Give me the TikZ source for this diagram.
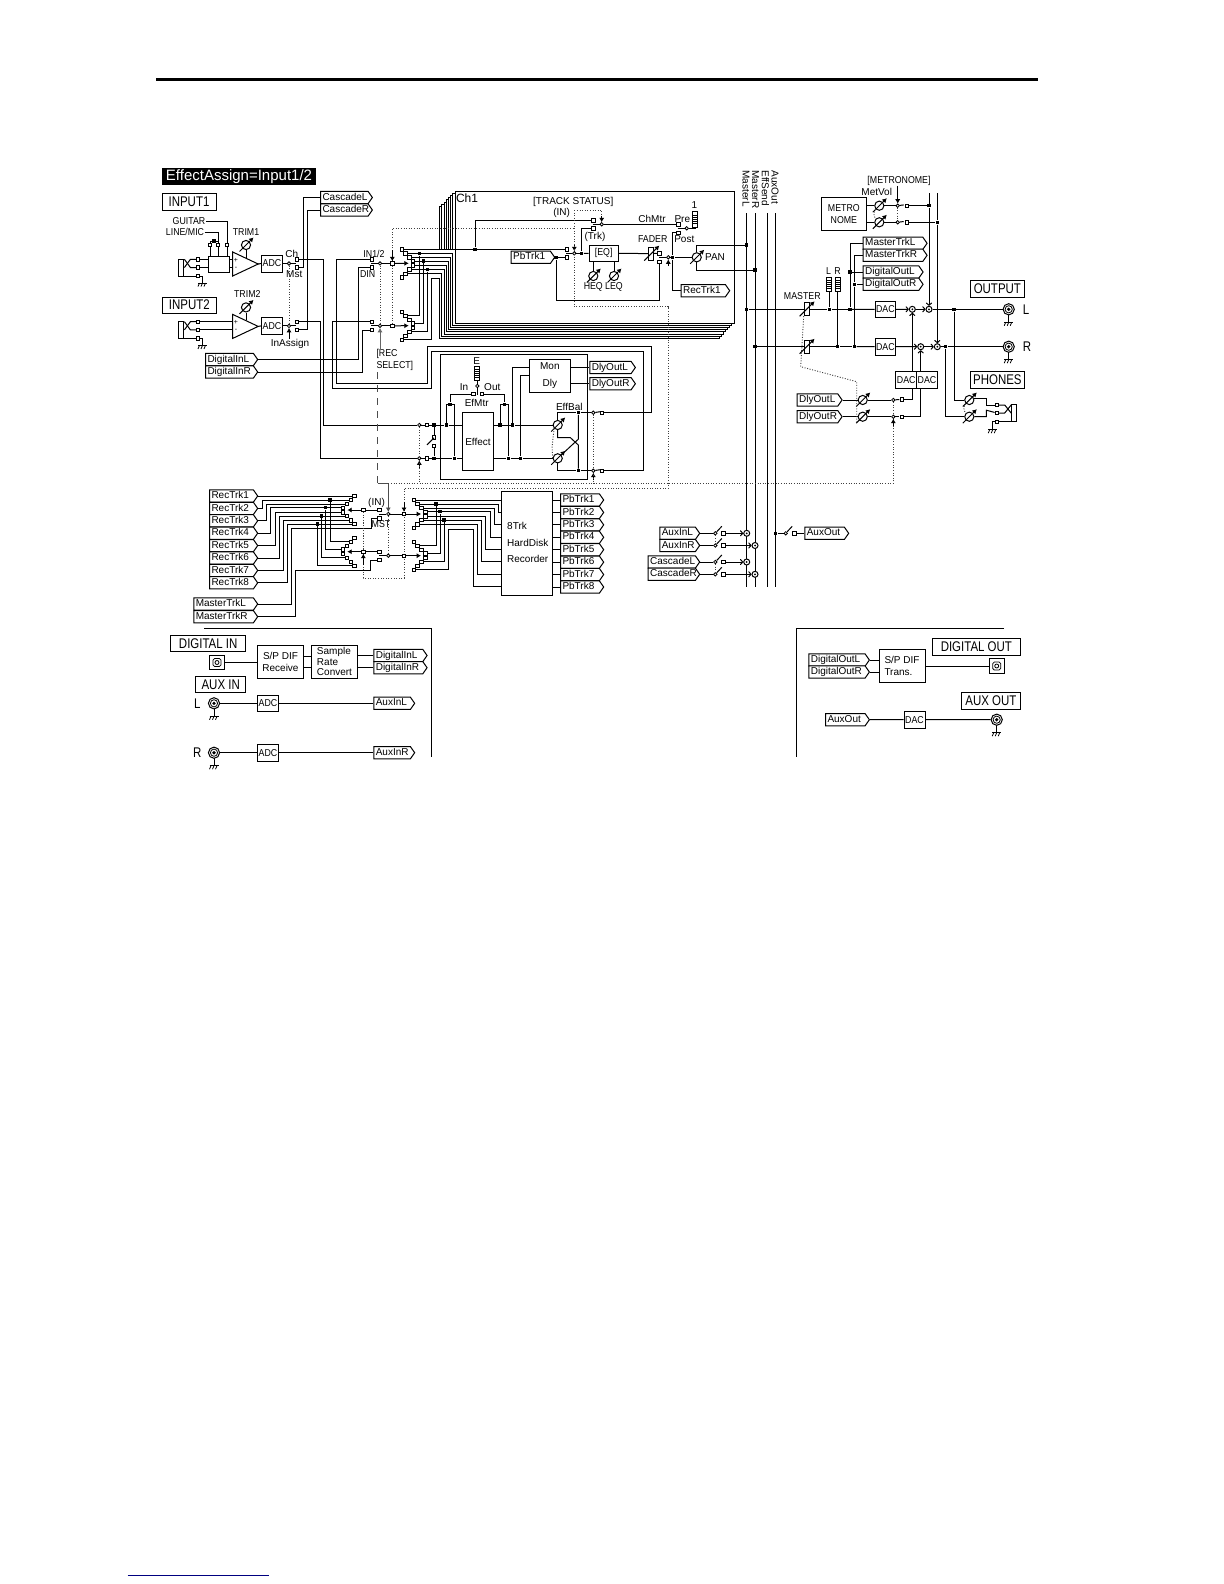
\documentclass[tikz,border=0pt]{standalone}
\usepackage{fontspec}
\setmainfont{Liberation Sans}
\newfontfamily\boxfont[FakeStretch=0.82]{Liberation Sans}
\newfontfamily\capsfont[FakeStretch=0.88]{Liberation Sans}
\usetikzlibrary{shapes.symbols,arrows.meta}

\newcommand{\tinyf}{\fontsize{5}{6.2}\selectfont}
\newcommand{\capf}{\capsfont\fontsize{5}{6.2}\selectfont}
\newcommand{\titlef}{\boxfont\fontsize{7}{8}\selectfont}
\definecolor{rulenavy}{RGB}{0,0,128}

\tikzset{
  term/.style={draw,fill=white,rectangle,minimum size=1.7pt,line width=0.4pt},
  jdot/.style={fill=black,rectangle,minimum size=1.7pt},
  pivot/.style={draw,fill=white,circle,minimum size=1.7pt,line width=0.4pt},
  sbox/.style={draw,fill=white,align=center},
  capt/.style={font=\capf},
  tag/.style={draw,fill=white,signal,signal to=east,signal pointer angle=110,anchor=west,
    inner xsep=1pt,inner ysep=0.65pt,text height=3.7pt,text depth=1.1pt},
  pot/.style={draw,fill=white,circle,minimum size=4.6pt},
  sum/.style={draw,fill=white,circle,minimum size=3pt},
  fad/.style={draw,fill=white,rectangle,minimum width=2.4pt,minimum height=6.4pt},
  arr/.style={-{Latex[length=2.2pt,width=2.6pt]}},
  chev/.style={-{To[length=1.6pt,width=3pt]}},
  ctl/.style={line width=0.45pt,black!75,dash pattern=on 0.5pt off 0.8pt},
  gnd/.pic={
    \draw[line width=0.4pt] (-4.5,0)--(4.5,0);
    \foreach \q in {-3,0,3}{\draw[line width=0.4pt] (\q,0)--++(-1.5,3.5);}
  },
}

% name, left, centre y, full width, text
\newcommand{\tagnode}[5]{%
  \pgfmathsetlengthmacro{\tagw}{(#4)*0.5pt-4.2pt}%
  \node[tag] (#1) at (#2,{#3}) {\makebox[\tagw][l]{#5}};}
% [options] name, x1, y1, x2, y2, text
\newcommand{\blk}[7][]{%
  \pgfmathsetlengthmacro{\bxw}{((#5)-(#3))*0.5pt}%
  \pgfmathsetlengthmacro{\bxh}{((#6)-(#4))*0.5pt}%
  \node[sbox,minimum width=\bxw,minimum height=\bxh,#1] (#2) at ({((#3)+(#5))/2},{((#4)+(#6))/2}) {#7};}
\newcommand{\potnode}[3]{%
  \node[pot] (#1) at (#2,{#3}) {};
  \draw[arr] (#1) ++(-6.5,6.5) -- ++(14,-14);}
\newcommand{\fadernode}[3]{%
  \node[fad] (#1) at (#2,#3) {};
  \draw[arr] (#1) ++(-7,7) -- ++(15,-15);}
\newcommand{\metnode}[4]{%
  \node[draw,fill=white,minimum width=2.6pt,minimum height=#4] (#1) at (#2,#3) {};
  \foreach \q in {-0.7,-0.35,0,0.35,0.7}{\draw[line width=0.3pt] (#1.center) ++(-2.6,0) ++(0,\q*6) -- ++(5.2,0);}}
\newcommand{\fannode}[4]{%
  \coordinate (#1p) at (#2,#3);
  \foreach \k/\dx/\dy in {a/-7/-14,b/-3.5/-10,c/0.5/-6,d/4.2/-2.3,e/4.2/2.2,f/0.5/6,g/-3.5/10.3,h/-7/14}
    \node[term] (#1\k) at ({#2+#4*\dx},{#3+\dy}) {};}
\newcommand{\rcanode}[3]{%
  \draw (#2,#3) ++(0,4) -- ++(0,9) pic {gnd};
  \node[circle,draw,fill=white,minimum size=5.6pt] (#1) at (#2,#3) {};
  \draw[line width=0.4pt] (#1) circle (1.8pt);
  \fill (#1) circle (0.9pt);}
\newcommand{\optnode}[3]{%
  \node[draw,fill=white,minimum size=7.4pt] (#1) at (#2,#3) {};
  \draw[line width=0.4pt] (#1) circle (1pt);
  \draw[line width=0.4pt,rounded corners=0.8pt] (#1) ++(-4,-4) rectangle ++(8,8);}

\begin{document}
\begin{tikzpicture}[x=0.5pt,y=-0.5pt,line width=0.5pt,
  every node/.style={font=\tinyf,inner sep=0pt}]
\useasboundingbox (0,0) rectangle (1224,1584);

\draw[line width=1.1pt] (156,79.5) -- (1038,79.5);
\draw[rulenavy,line width=0.8pt] (127.5,1575.3) -- (269,1575.3);

\node[fill=black,text=white,minimum width=77pt,minimum height=8.6pt,font=\fontsize{7.5}{8}\selectfont] (assign) at (239,176.5) {EffectAssign=Input1/2};

% boxed titles
\blk[font=\titlef]{tInputA}{162}{193}{216}{210}{INPUT1}
\blk[font=\titlef]{tInputB}{162.7}{297.3}{216}{313}{INPUT2}
\blk[font=\titlef]{tOutput}{970}{280.7}{1024.7}{297.3}{OUTPUT}
\blk[font=\titlef]{tPhones}{970}{371.3}{1024.7}{388}{PHONES}
\blk[font=\titlef]{tDigIn}{170.7}{635}{245.7}{651.7}{DIGITAL IN}
\blk[font=\titlef]{tAuxIn}{195.7}{676}{245.7}{692.7}{AUX IN}
\blk[font=\titlef]{tDigOut}{932.7}{638.7}{1020}{655.3}{DIGITAL OUT}
\blk[font=\titlef]{tAuxOut}{961.7}{692.7}{1020}{709.3}{AUX OUT}

% plain labels
\foreach \n/\x/\y/\t in {lGuitar/189/221.5/GUITAR,lTrimA/246/232/TRIM1,lTrimB/247.3/294/TRIM2,lDin/367.7/274/DIN,
  lMaster/802.3/296/MASTER,lMetr/899/180.7/[METRONOME],lL/828.5/271/L,lR/837.5/271/R,lRmst/381/524.5/MST}
  {\node[capt] (\n) at (\x,\y) {\t};}
\foreach \n/\x/\y/\t in {lCh/291.7/254/Ch,lMst/294.3/274/Mst,lAssign/290/344/InAssign,lMet/876.7/191.7/MetVol,lRin/376.5/502.5/(IN)}
  {\node (\n) at (\x,\y) {\t};}
\node[capt] (lLine) at (185,232) {LINE/MIC};
\node[capt] (lInOne) at (374,253.7) {IN1/2};
\node[font=\titlef] (lOutL) at (1026,310) {L};
\node[font=\titlef] (lOutR) at (1027,346.7) {R};
\node[font=\titlef] (lAuxL) at (197.3,703.3) {L};
\node[font=\titlef] (lAuxR) at (197.3,752.7) {R};
\node[capt,anchor=west,align=left] (lRec) at (376,360) {[REC\\SELECT]};
\foreach \n/\x/\t in {lBusA/746/MasterL,lBusB/755.5/MasterR,lBusC/765.5/EffSend,lBusD/775/AuxOut}
  {\node[rotate=-90,anchor=west] (\n) at (\x,170) {\t};}

% channel stack
\foreach \i in {7,6,...,1}{
  \draw[fill=white] ({454.7-2.14*\i},{191.3+2.14*\i}) rectangle ({734-2.14*\i},{323.3+2.14*\i});
}
\fill[white] (438,249.6) rectangle (454.2,279);
\pgfmathsetlengthmacro{\chw}{279.3*0.5pt}
\pgfmathsetlengthmacro{\chh}{132*0.5pt}
\node[draw,fill=white,minimum width=\chw,minimum height=\chh,anchor=north west] (chOne) at (454.7,191.3) {};
\node[font=\fontsize{6}{7}\selectfont] (lChOne) at (467,198.7) {Ch1};
\node (lChMtr) at (652,218.7) {ChMtr};
\node (lPre) at (682.3,218.7) {Pre};
\node (lPost) at (684.3,239) {Post};
\node (lOne) at (694.5,205) {1};
\node (lIn) at (561.7,212.7) {(IN)};
\node (lTrk) at (595,237) {(Trk)};
\node (lPan) at (715,257.3) {PAN};
\foreach \n/\x/\y/\t in {lFader/652.7/239/FADER,lHeq/593.3/287.3/HEQ,lLeq/614/287.3/LEQ}
  {\node[capt] (\n) at (\x,\y) {\t};}
\node (lTrack) at (573.3,201.7) {[TRACK STATUS]};

% input channels
\foreach \n/\d in {A/0,B/62.4}{
  \node[draw,fill=white,minimum width=2.7pt,minimum height=8.5pt] (jk\n) at (181.2,{267.6+\d}) {};
  \node[term] (tp\n) at (198,{259.3+\d}) {};
  \node[term] (tq\n) at (198,{267.5+\d}) {};
  \node[term] (tr\n) at (198,{276+\d}) {};
  \draw (jk\n.east |- tq\n) -- ++(6,-8.2) -- (tp\n);
  \draw (jk\n.east |- tp\n) -- ++(6,8.2) -- (tq\n);
  \draw (jk\n.east |- tr\n) -- (tr\n);
  \draw (tr\n) -- ++(4.5,0) -- ++(0,7) pic {gnd};
  \coordinate (ampT\n) at (232.7,{252+\d});
  \coordinate (ampB\n) at (232.7,{276+\d});
  \coordinate (ampO\n) at (258.2,{264+\d});
  \draw (ampT\n) -- (ampB\n) -- (ampO\n) -- cycle;
  \node[font=\fontsize{3.5}{4}\selectfont] (ampP\n) at (236,{260+\d}) {+};
  \node[font=\fontsize{3.5}{4}\selectfont] (ampM\n) at (236,{268+\d}) {-};
  \potnode{trim\n}{246}{245+\d}
  \draw (trim\n) -- ++(0,12.5);
  \blk[capt]{adc\n}{261.7}{255+\d}{282.3}{272+\d}{ADC}
  \node[pivot] (pv\n) at (289,{263.5+\d}) {};
  \node[term] (tCh\n) at (297,{259.3+\d}) {};
  \node[term] (tMs\n) at (297,{267.5+\d}) {};
  \draw (ampO\n) -- (adc\n.west);
  \draw (adc\n.east) -- (pv\n);
  \draw (pv\n) -- ++(7,0);
}
\blk{gsel}{208}{256}{229}{272}{}
\foreach \n/\x in {a/210,b/218,c/227}{\node[term] (gt\n) at (\x,245) {};\draw (gt\n) -- (\x,256);}
\draw (gta) -- ++(0,-4) -- ++(8,0) -- (gtb);
\node[jdot] (gtd) at (214,241) {};
\draw (lGuitar.east) -| (gtc);
\draw (lLine.east) -| (gtb);
\draw (tpA) -- (gsel.west |- tpA);
\draw (tqA) -- (gsel.west |- tqA);
\draw (gsel.east |- tpA) -- (ampTA |- tpA);
\draw (gsel.east |- tqA) -- (ampTA |- tqA);
\draw (tpB) -- (ampTB |- tpB);
\draw (tqB) -- (ampTB |- tqB);
\draw[ctl] (pvA) -- (pvB);
\draw[arr] (pvB |- lAssign.north) -- (pvB);

\tagnode{cascL}{320}{197.5}{52}{CascadeL}
\tagnode{cascR}{320}{210}{52}{CascadeR}
\tagnode{digInL}{205}{359.5}{52.3}{DigitalInL}
\tagnode{digInR}{205}{372}{52.3}{DigitalInR}
\draw (tMsA) -- ++(6.3,0) |- (cascL.west);
\draw (tMsB) -- ++(10.3,0) |- (cascR.west);

% record select switches and channel fans
\foreach \n/\x/\y in {sIna/371.7/259.3,sInb/371.7/267.5,sInc/371.7/321.7,sInd/371.7/330}
  {\node[term] (\n) at (\x,\y) {};}
\node[pivot] (pvSa) at (380,263.4) {};
\node[pivot] (pvSb) at (380,325.8) {};
\node[term] (sqSa) at (392.3,263.4) {};
\node[term] (sqSb) at (392.3,325.8) {};
\fannode{ia}{408.7}{263.3}{1}
\fannode{ib}{408.7}{325.7}{1}
\draw (pvSa) ++(-9,0) -- (pvSa);
\draw (pvSb) ++(-9,0) -- (pvSb);
\draw (pvSa) -- (sqSa);
\draw (pvSb) -- (sqSb);
\draw[arr] (sqSa) -- (iap);
\draw[arr] (sqSb) -- (ibp);
\draw[ctl] (pvSa) -- (pvSb);
\draw[ctl] (sqSa) -- (sqSb);
\coordinate (recsel) at (380,350);
\draw[arr,black!60] (recsel) -- (pvSb);
\foreach \k/\i in {b/1,c/2,d/3,e/4,f/5,g/6}{
  \draw (ia\k) -| ({454.7-2.14*\i},{323.3+2.14*\i});
}
\draw (ibh) -- (431.7,339.7) -- (431.7,278.3) -| ({454.7-2.14*7},{323.3+2.14*7});
\node[jdot] (dIa) at (419.3,253.3) {};
\node[jdot] (dIb) at (423.3,261) {};
\node[jdot] (dIc) at (427.7,269.3) {};
\draw (dIa) |- (ibb);
\draw (dIb) |- (ibd);
\draw (dIc) |- (ibf);
\draw (digInL.east) -- ++(100,0) |- (sInb);
\draw (digInR.east) -- ++(104.3,0) |- (sInd);

% inside channel 1
\foreach \n/\x/\y in {tSa/566.7/249.3,tSb/566.7/257.3,tCa/593.3/220.3,tCb/593.3/228.3,tPre/678.3/224.3,tPost/678.3/232.7,tFa/659.3/253.3,tFb/659.3/261.7}
  {\node[term] (\n) at (\x,\y) {};}
\foreach \n/\x/\y in {pvS/574.3/253.3,pvC/601.7/224.3,pvP/686.7/228.3,pvF/668.3/257.3}
  {\node[pivot] (\n) at (\x,\y) {};}
\foreach \n/\x/\y in {dIn/475/249.3,dEq/581.7/253.3,dPb/556/257.3,dFad/672.7/257.3}
  {\node[jdot] (\n) at (\x,\y) {};}
\tagnode{pbtrk}{510.7}{257.3}{43.6}{PbTrk1}
\tagnode{rectrk}{680.7}{290.7}{48.6}{RecTrk1}
\blk[capt]{eqbox}{589}{245}{618.3}{261.7}{[EQ]}
\potnode{potH}{593.3}{276}
\potnode{potL}{614}{276}
\potnode{potPan}{696.7}{257.3}
\fadernode{fadCh}{651.3}{253.6}
\metnode{metChan}{695}{219}{8pt}
\draw (iaa) -- (dIn);
\draw (dIn) -- (tSa);
\draw (dIn) |- (tCa);
\draw (tCb) -| (dEq);
\draw (pvS) ++(-8,0) -- (pvS);
\draw (pvS) -- (dEq);
\draw (dEq) -- (eqbox.west);
\draw (pbtrk.east) -- (dPb);
\draw (dPb) -- (tSb);
\draw (dPb) -- ++(0,43.4) -| (tFb);
\draw (potH) -- (potH |- eqbox.south);
\draw (potL) -- (potL |- eqbox.south);
\draw (eqbox.east) -- (fadCh);
\draw (fadCh) -- (tFa);
\draw (pvF) ++(-9,0) -- (pvF);
\draw (pvF) -- (dFad);
\draw (dFad) -- (potPan);
\draw (dFad) |- (rectrk.west);
\draw (tPost) -| (dFad);
\draw (pvC) ++(-9,0) -- (pvC);
\draw (pvC) -- (tPre);
\draw (pvP) ++(-9,0) -- (pvP);
\draw (pvP) -| (metChan.south);
\draw[arr] (574.3,244) -- (pvS);
\draw[arr] (601.7,216) -- (pvC);
\draw[arr] (668.3,266) -- (pvF);
\draw[ctl] (574.3,210) -- (601.7,210) -- (601.7,216);
\draw[ctl] (574.3,210) -- (574.3,306.7) -- (668.3,306.7) -- (668.3,488.3) -- (404,488.3) -- (404,578) -- (363.3,578) -- (363.3,510);
\draw[ctl] (sqSa) -- (392.3,228.3) -- (574.3,228.3);
\draw[arr] (392.3,250) -- (sqSa);

% master busses
\foreach \n/\x in {busA/746.7,busB/755,busC/767.3,busD/775.7}{
  \coordinate (\n t) at (\x,213);
  \coordinate (\n b) at (\x,587);
  \draw (\n t) -- (\n b);
}
\node[jdot] (dPanL) at (746.7,245) {};
\node[jdot] (dPanR) at (755,270) {};
\draw (potPan) |- (dPanL);
\draw (potPan) |- (dPanR);

% output section
\foreach \n/\x/\y in {dML/746.7/309.3,dMR/755/346.7,dLm/829.3/309.3,dRm/837.7/346.7,dTrL/850/309.3,dTrR/854.3/346.7,dOutL/954/309.3,dOutR/945.7/346.7,dDgL/850/272,dDgR/854.3/284.3}
  {\node[jdot] (\n) at (\x,\y) {};}
\fadernode{fadL}{806.6}{309.3}
\fadernode{fadR}{806.6}{346.7}
\metnode{metL}{829.3}{284}{7pt}
\metnode{metR}{837.7}{284}{7pt}
\tagnode{masTrkL}{862.7}{243.3}{64}{MasterTrkL}
\tagnode{masTrkR}{862.7}{255.3}{64}{MasterTrkR}
\tagnode{digOutL}{862.7}{272}{60}{DigitalOutL}
\tagnode{digOutR}{862.7}{284.3}{60}{DigitalOutR}
\blk[capt]{dacL}{875}{301}{895.7}{317.7}{DAC}
\blk[capt]{dacR}{875}{338.3}{895.7}{355}{DAC}
\blk[capt]{dacM}{895.7}{371.3}{916.7}{388}{DAC}
\blk[capt]{dacN}{916.7}{371.3}{937.3}{388}{DAC}
\foreach \n/\x/\y in {sumA/912.3/309.3,sumB/929/309.3,sumC/920.7/346.7,sumD/937.3/346.7}{
  \node[sum] (\n) at (\x,\y) {};
  \fill (\n) circle (0.5pt);
}
\rcanode{jackL}{1008.7}{309.3}
\rcanode{jackR}{1008.7}{346.7}
\draw (dML) -- (fadL);
\draw (fadL) -- (dLm);
\draw (dLm) -- (dTrL);
\draw (dTrL) -- (dacL);
\draw (dMR) -- (fadR);
\draw (fadR) -- (dRm);
\draw (dRm) -- (dTrR);
\draw (dTrR) -- (dacR);
\draw (dLm) -- (metL.south);
\draw (dRm) -- (metR.south);
\draw (masTrkL.west) -| (dDgL);
\draw (dDgL) -- (dTrL);
\draw (masTrkR.west) -| (dDgR);
\draw (dDgR) -- (dTrR);
\draw (digOutL.west) -- (dDgL);
\draw (digOutR.west) -- (dDgR);
\draw[chev] (dacL) -- (sumA);
\draw[chev] (sumA) -- (sumB);
\draw[chev] (dacR) -- (sumC);
\draw[chev] (sumC) -- (sumD);
\draw (sumB) -- (dOutL);
\draw (dOutL) -- (jackL);
\draw (sumD) -- (dOutR);
\draw (dOutR) -- (jackR);
\draw[chev] (dacM.north -| sumA) -- (sumA);
\draw[chev] (dacN.north -| sumC) -- (sumC);

% metronome
\blk[capt]{metro}{821}{197.3}{866.7}{230.7}{METRO\\NOME}
\potnode{potMa}{879.3}{205.7}
\potnode{potMb}{879.3}{222.3}
\foreach \n/\y in {a/205.7,b/222.3}{
  \node[pivot] (pvM\n) at (897.7,\y) {};
  \node[term] (tM\n) at (906.7,\y) {};
  \draw (metro.east |- potM\n) -- (potM\n);
  \draw (potM\n) -- (pvM\n);
  \draw (pvM\n) -- ++(6,-0.8);
}
\node[jdot] (dMa) at (929,205.7) {};
\node[jdot] (dMb) at (937.3,222.3) {};
\draw (tMa) -- (dMa);
\draw (tMb) -- (dMb);
\coordinate (mTopA) at (929,193);
\coordinate (mTopB) at (937.3,193);
\draw (mTopA) -- (dMa);
\draw (mTopB) -- (dMb);
\draw[chev] (dMa) -- (sumB);
\draw[chev] (dMb) -- (sumD);
\draw[arr] (pvMa |- lMetr.south) -- (pvMa);
\draw[ctl] (pvMa) -- (pvMb);
\draw[ctl] (potMa.south west) to[bend right=40] (potMb.north west);

% delay returns and phones
\tagnode{dlyInL}{796.7}{400}{45}{DlyOutL}
\tagnode{dlyInR}{796.7}{416.7}{45}{DlyOutR}
\potnode{potDa}{862.7}{400}
\potnode{potDb}{862.7}{416.7}
\node[pivot] (pvDa) at (893.3,400) {};
\node[pivot] (pvDb) at (893.3,416.7) {};
\node[term] (tDa) at (902,399.5) {};
\node[term] (tDb) at (902,416.7) {};
\draw (dlyInL.east) -- (potDa);
\draw (dlyInR.east) -- (potDb);
\draw (potDa) -- (pvDa);
\draw (potDb) -- (pvDb);
\draw (pvDa) -- ++(6,-0.5);
\draw (pvDb) -- ++(6,0);
\draw (tDa) -| (dacM.south -| sumA);
\draw (tDb) -| (dacN.south -| sumC);
\draw[ctl] (pvDa) -- (pvDb);
\draw[ctl] (fadL.south west) -- (800.7,366.7) -- (856.7,381.7) -- (856.7,423);
\potnode{potPa}{969.3}{400}
\potnode{potPb}{969.3}{416.7}
\draw (dOutL) |- (potPa);
\draw (dOutR) |- (potPb);
\draw[ctl] (potPa.south west) to[bend right=40] (potPb.north west);
\node[term] (tPa) at (996.7,405) {};
\node[term] (tPb) at (996.7,413) {};
\node[term] (tPc) at (996.7,421.7) {};
\node[draw,fill=white,minimum width=2.2pt,minimum height=8.7pt] (jkP) at (1013.8,413) {};
\draw (potPa) ++(5,-2) -- ++(12,0) -- ++(0,7) -- (tPa);
\draw (potPb) ++(5,0) -- ++(12,0) -- ++(0,-6.5) -- (tPb);
\draw (tPa) -- ++(8,0) -- (jkP.west |- tPb);
\draw (tPb) -- ++(8,0) -- (jkP.west |- tPa);
\draw (tPc) -- (jkP.west |- tPc);
\draw (tPc) -- ++(-4,0) -- ++(0,8) pic {gnd};

% effect section
\blk[fill=none]{effFrame}{440}{354}{587.7}{479}{}
\blk{effect}{462.7}{412.7}{493.3}{470.7}{Effect}
\blk[align=center]{monDly}{529}{359}{570.7}{392.3}{Mon\\[2pt]Dly}
\tagnode{dlyOutL}{589.3}{367.5}{45.7}{DlyOutL}
\tagnode{dlyOutR}{589.3}{383.7}{45.7}{DlyOutR}
\metnode{metE}{477.3}{373}{7pt}
\foreach \n/\x/\y/\t in {lIn2/464/387.3/In,lOut/492.3/387.3/Out,lEfMtr/476.7/402.7/EfMtr,lE/476.7/361/E,lEff/569.3/407.3/EffBal}
  {\node (\n) at (\x,\y) {\t};}
\foreach \n/\x/\y in {tEi/473.3/394,tEo/481.7/394,tIa/427/425,tIb/427/458.3,tOa/601.7/412.7,tOb/601.7/470.7,tBa/434/437.3,tBb/434/446}
  {\node[term] (\n) at (\x,\y) {};}
\foreach \n/\x/\y in {pvE/477.3/386,pvIa/419.3/425,pvIb/419.3/458.3,pvOa/593.3/412.7,pvOb/593.3/470.7}
  {\node[pivot] (\n) at (\x,\y) {};}
\foreach \n/\x/\y in {dBa/434/425,dBb/434/458.3,dEa/446.3/425,dEb/454.3/458.3,dFa/500/425,dFb/508.3/458.3,dGa/512.7/425,dGb/520.7/458.3,
  dTa/450/404.5,dTb/504.3/404.5,dXa/578.3/412.7,dXb/578.3/470.7}
  {\node[jdot] (\n) at (\x,\y) {};}
\potnode{potEa}{557.7}{425}
\potnode{potEb}{557.7}{458.3}
\draw (tChA) -- ++(26.5,0) |- (pvIa);
\draw (tChB) -- ++(23,0) |- (pvIb);
\draw (pvIa) -- (tIa);
\draw (tIa) -- (dBa);
\draw (dBa) -- (dEa);
\draw (dEa) -- (effect.west |- dEa);
\draw (pvIb) -- (tIb);
\draw (tIb) -- (dBb);
\draw (dBb) -- (dEb);
\draw (dEb) -- (effect.west |- dEb);
\draw (dBa) -- (tBa);
\draw (dBb) -- (tBb);
\draw (tBa) ++(0,0.5) -- ++(-7,7);
\draw (effect.east |- dFa) -- (dFa);
\draw (dFa) -- (dGa);
\draw (dGa) -- (potEa);
\draw (effect.east |- dFb) -- (dFb);
\draw (dFb) -- (dGb);
\draw (dGb) -- (potEb);
\draw (metE.south) -- (pvE);
\draw (pvE) -- ++(0,9);
\draw (tEi) -| (dTa);
\draw (tEo) -| (dTb);
\draw (dEa) -- ++(0,-20.5) -- ++(8,0) -- (dEb);
\draw (dFa) -- ++(0,-20.5) -- ++(8.3,0) -- (dFb);
\draw (dGa) |- (monDly.west |- 529,367.3);
\draw (dGb) |- (monDly.west |- 529,375.7);
\draw (monDly.east |- dlyOutL) -- (dlyOutL.west);
\draw (monDly.east |- dlyOutR) -- (dlyOutR.west);
\draw (potEa) |- (dXa);
\draw (dXa) -- (pvOa);
\draw (potEb) |- (dXb);
\draw (dXb) -- (pvOb);
\draw (dXa) -- ++(0,26.5) -- ++(-6.5,6) -- (potEb);
\draw (potEa) -- ++(0,12.5) -- ++(12.5,0) -- ++(8.1,7.5) -- (dXb);
\draw (pvOa) -- ++(7,-1);
\draw (pvOb) -- ++(7,-1);
\draw (tOa) -- (651.7,412.7) -- (651.7,346.7) -- (427.3,346.7) -- (427.3,383.3) -- (336,383.3) |- (sIna);
\draw (tOb) -- (643.3,470.7) -- (643.3,351.7) -- (431.7,351.7) -- (431.7,388.3) -- (332.7,388.3) |- (sInc);
\draw[ctl] (pvIa) -- (pvIb);
\draw[ctl] (pvOa) -- (pvOb);
\draw[ctl] (potEa.south west) -- ++(-2,18) -- (potEb.west);
\draw[arr] (419.3,468) -- (pvIb);
\draw[arr] (593.3,480) -- (pvOb);

% track section
\foreach \i/\k/\d in {1/a/0,2/b/4.4,3/c/8.7,4/d/12.7,5/e/17,6/f/21,7/g/25.4,8/h/29.4}{
  \tagnode{rec\i}{209}{496+12.4*(\i-1)}{48.3}{RecTrk\i}
}
\tagnode{mtrkA}{193.3}{604}{64}{MasterTrkL}
\tagnode{mtrkB}{193.3}{616.7}{64}{MasterTrkR}
\fannode{la}{347.3}{510}{-1}
\fannode{lb}{347.3}{551.7}{-1}
\fannode{ra}{421}{514}{1}
\fannode{rb}{421}{555.7}{1}
\foreach \i/\k/\d in {1/a/0,2/b/4.4,3/c/8.7,4/d/12.7,5/e/17,6/f/21,7/g/25.4,8/h/29.4}{
  \draw (rec\i.east) -- ++(\d,0) |- (la\k);
}
\node[jdot] (dLb) at (330,500) {};
\node[jdot] (dLd) at (325.7,507.7) {};
\node[jdot] (dLf) at (321.7,516) {};
\node[jdot] (dLh) at (317.3,524) {};
\foreach \k in {b,d,f,h}{\draw (dL\k) |- (lb\k);}
\foreach \n/\x/\y in {sRa/379.3/510,sRb/379.3/518.3,sRc/379.3/551.7,sRd/379.3/560,sqLa/363.3/510,sqLb/363.3/551.7}
  {\node[term] (\n) at (\x,\y) {};}
\foreach \n/\x/\y in {pvRa/388.3/514,pvRb/388.3/555.7}
  {\node[pivot] (\n) at (\x,\y) {};}
\node[term] (sqRa) at (404,514) {};
\node[term] (sqRb) at (404,555.7) {};
\draw (sRa) -- (sqLa);
\draw (sRc) -- (sqLb);
\draw[arr] (sqLa) -- (lap);
\draw[arr] (sqLb) -- (lbp);
\draw (pvRa) ++(-9,0) -- (pvRa);
\draw (pvRb) ++(-9,0) -- (pvRb);
\draw (pvRa) -- (sqRa);
\draw (pvRb) -- (sqRb);
\draw[arr] (sqRa) -- (rap);
\draw[arr] (sqRb) -- (rbp);
\draw (mtrkA.east) -- ++(33.4,0) |- (371.7,528.5) |- (sRb);
\draw (mtrkB.east) -- ++(37.7,0) |- (370,570.7) |- (sRd);
\draw[ctl] (pvRa) -- (pvRb);
\draw[arr] (363.3,565) -- (sqLb);
\draw[arr] (404,502) -- (sqRa);
\draw[ctl] (sqLa) -- (sqLb);
\coordinate (recdash) at (377.5,372);
\draw[dash pattern=on 3.5pt off 3pt,black!70] (recdash) -- (377.5,483.3);
\draw[arr,black!70] (377.5,483.3) -| (pvRa);
\draw[ctl] (388.3,483.3) -- (893.3,483.3) -- (pvDb);
\draw[ctl] (pvIb) -- (419.3,483.3);
\draw[ctl] (pvOb) -- (593.3,483.3);
\draw[arr] (893.3,426) -- (pvDb);

\blk{hdd}{501.7}{491.7}{552.3}{595.7}{}
\node[anchor=west,align=left] (lHdd) at (506.7,542.7) {8Trk\\[2pt]HardDisk\\[2pt]Recorder};
\foreach \i in {1,...,8}{
  \tagnode{pb\i}{560}{500+12.43*(\i-1)}{43.3}{PbTrk\i}
  \draw (hdd.east |- pb\i.west) -- (pb\i.west);
}
\draw (raa) -- (raa -| hdd.west);
\foreach \k/\x/\y in {b/498.3/512.7,c/494.3/524.3,d/490/537.3,e/485.7/549.3,f/481.7/561.7,g/477.7/574}{
  \coordinate (hdin\k) at (501.7,\y);
  \draw (ra\k) -| (\x,\y) -- (hdin\k);
}
\coordinate (hdinh) at (501.7,586.7);
\draw (rbh) -- (448.3,569.7) -- (448.3,529) -- (473.3,529) |- (hdinh);
\node[jdot] (dRb) at (436,504) {};
\node[jdot] (dRd) at (440,511.7) {};
\node[jdot] (dRf) at (444,520) {};
\foreach \k in {b,d,f}{\draw (dR\k) |- (rb\k);}

% aux and cascade sends
\tagnode{auxL}{659.3}{533.3}{40}{AuxInL}
\tagnode{auxR}{659.3}{545.5}{40}{AuxInR}
\tagnode{casL}{647.7}{562}{51.6}{CascadeL}
\tagnode{casR}{647.7}{574.3}{51.6}{CascadeR}
\foreach \n/\s/\x/\y in {auxL/a/746.7/533.3,auxR/b/755/545.5,casL/c/746.7/562,casR/d/755/574.3}{
  \node[pivot] (pvA\s) at (715.3,\y) {};
  \node[term] (tA\s) at (723.3,\y) {};
  \node[sum] (sA\s) at (\x,\y) {};
  \fill (sA\s) circle (0.5pt);
  \draw (\n.east) -- (pvA\s);
  \draw (pvA\s) -- ++(6.5,-7);
  \draw[chev] (tA\s) -- (sA\s);
}
\draw[ctl] (pvAa) -- (pvAb);
\draw[ctl] (pvAc) -- (pvAd);
\node[jdot] (dAux) at (775.7,533.3) {};
\node[pivot] (pvAux) at (785.7,533.3) {};
\node[term] (tAux) at (794.3,533.3) {};
\tagnode{auxOut}{804.3}{533.3}{44}{AuxOut}
\draw (dAux) -- (pvAux);
\draw (pvAux) -- ++(6.5,-7);
\draw (tAux) -- (auxOut.west);

% digital in and aux in
\coordinate (pnlAa) at (204,628.3);
\coordinate (pnlAb) at (431.7,756.7);
\draw (pnlAa) -| (pnlAb);
\optnode{optIn}{217}{662.5}
\blk[align=center]{spdifIn}{257.7}{645}{303.3}{678.3}{S/P DIF\\Receive}
\blk[align=left,font=\fontsize{5}{5.3}\selectfont]{srcBox}{311.7}{645}{357.3}{678.3}{Sample\\Rate\\Convert}
\tagnode{dInL}{373.3}{655.5}{53.4}{DigitalInL}
\tagnode{dInR}{373.3}{667.7}{53.4}{DigitalInR}
\draw (optIn) -- (spdifIn.west |- optIn);
\draw (spdifIn.east |- 303,656) -- (srcBox.west |- 303,656);
\draw (spdifIn.east |- 303,667.3) -- (srcBox.west |- 303,667.3);
\draw (srcBox.east |- dInL) -- (dInL.west);
\draw (srcBox.east |- dInR) -- (dInR.west);
\foreach \n/\y in {L/703.3,R/752.7}{
  \rcanode{jkAux\n}{214}{\y}
  \blk[capt]{adcAux\n}{257.7}{\y-8.3}{278.3}{\y+8.3}{ADC}
  \tagnode{auxIn\n}{373.3}{\y}{41}{AuxIn\n}
  \draw (jkAux\n) -- (adcAux\n);
  \draw (adcAux\n) -- (auxIn\n.west);
}

% digital out and aux out
\coordinate (pnlBa) at (1004,628.3);
\coordinate (pnlBb) at (796,756.7);
\draw (pnlBa) -| (pnlBb);
\tagnode{dOutL}{808.3}{660}{60.7}{DigitalOutL}
\tagnode{dOutR}{808.3}{672}{60.7}{DigitalOutR}
\blk[align=left]{spdifOut}{879}{649}{925}{682.3}{S/P DIF\\Trans.}
\optnode{optOut}{996.7}{666}
\draw (dOutL.east) -- (spdifOut.west |- dOutL);
\draw (dOutR.east) -- (spdifOut.west |- dOutR);
\draw (spdifOut.east |- optOut) -- (optOut);
\tagnode{auxOutB}{825}{719.7}{44}{AuxOut}
\blk[capt]{dacAux}{904}{711.3}{925}{728}{DAC}
\rcanode{jkAuxOut}{996.7}{719.7}
\draw (auxOutB.east) -- (dacAux);
\draw (dacAux) -- (jkAuxOut);
\end{tikzpicture}
\end{document}
